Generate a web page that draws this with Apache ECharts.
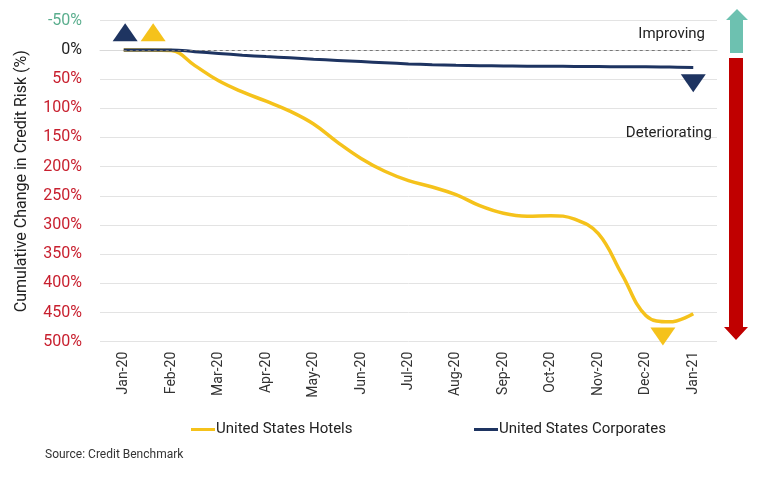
<!DOCTYPE html>
<html>
<head>
<meta charset="utf-8">
<script src="https://cdn.jsdelivr.net/npm/echarts@6/dist/echarts.min.js"></script>
<style>
  html, body { margin: 0; padding: 0; background: #fff; }
  #chart { width: 768px; height: 477px; }
</style>
</head>
<body>
<div id="chart"></div>
<script>
// month labels (category axis)
var months = ['Jan-20','Feb-20','Mar-20','Apr-20','May-20','Jun-20','Jul-20','Aug-20','Sep-20','Oct-20','Nov-20','Dec-20','Jan-21'];
// half-month positions, month index
var steps = [0,0.5,1,1.5,2,2.5,3,3.5,4,4.5,5,5.5,6,6.5,7,7.5,8,8.5,9,9.5,10,10.5,11,11.5,12];
// cumulative change in credit risk (%)
var hotels = [0,0,1,27,53,72,88,105,127,158,186,208,224,235,248,267,280,285,284,290,315,385,455,466,452];
var corporates = [0,0,0,3,6,9,11.5,13.5,16,18,20,22,24,25.5,26.5,27,27.5,28,28,28.5,28.5,29,29,29.5,30];

var hotelsColor = '#F5C21B';
var corpColor = '#1E3461';

var myChart = echarts.init(document.getElementById('chart'));

var pair = function (xs, ys) {
    var out = [];
    for (var i = 0; i < xs.length; i++) out.push([xs[i], ys[i]]);
    return out;
};

var option = {
    animation: false,
    textStyle: { fontFamily: 'Roboto' },
    title: {
        text: 'Source: Credit Benchmark',
        left: 40, top: 444,
        textStyle: { fontSize: 12, fontWeight: 'normal', color: '#333', fontFamily: 'Roboto' }
    },
    grid: { left: 100, right: 51, top: 20.7, bottom: 135.3 },
    legend: [
        {
            data: ['United States Hotels'],
            left: 186, top: 417,
            itemWidth: 24, itemHeight: 3, itemGap: 2,
            icon: 'rect',
            textStyle: { fontSize: 15, color: '#222', padding: [0, 0, 0, -4] }
        },
        {
            data: ['United States Corporates'],
            left: 469, top: 417,
            itemWidth: 24, itemHeight: 3, itemGap: 2,
            icon: 'rect',
            textStyle: { fontSize: 15, color: '#222', padding: [0, 0, 0, -4] }
        }
    ],
    xAxis: [
        {
            type: 'category',
            data: months,
            boundaryGap: true,
            axisLine: { lineStyle: { color: '#d9d9d9' } },
            axisTick: { alignWithLabel: true, length: 4, lineStyle: { color: '#d9d9d9' } },
            axisLabel: { rotate: 90, fontSize: 14, color: '#333', margin: 10, interval: 0 },
            splitLine: { show: false }
        },
        {
            type: 'value',
            min: -0.5, max: 12.5,
            show: false
        }
    ],
    yAxis: {
        type: 'value',
        inverse: true,
        min: -50, max: 500, interval: 50,
        name: 'Cumulative Change in Credit Risk (%)',
        nameLocation: 'middle',
        nameGap: 70,
        nameRotate: 90,
        nameTextStyle: { fontSize: 16, color: '#222' },
        axisLine: { show: false },
        axisTick: { show: false },
        splitLine: { lineStyle: { color: '#e3e3e3' } },
        axisLabel: {
            fontSize: 16,
            margin: 18,
            formatter: function (v) { return '{' + (v < 0 ? 'g' : v === 0 ? 'k' : 'r') + '|' + v + '%}'; },
            rich: {
                g: { color: '#5BAE8E', fontSize: 16 },
                k: { color: '#222', fontSize: 16 },
                r: { color: '#C8202F', fontSize: 16 }
            }
        }
    },
    graphic: [
        { type: 'text', right: 63, top: 27, z: 100, style: { text: 'Improving', fontSize: 15, fill: '#222', fontFamily: 'Roboto' } },
        { type: 'text', right: 56, top: 126, z: 100, style: { text: 'Deteriorating', fontSize: 15, fill: '#222', fontFamily: 'Roboto' } },
        { type: 'polygon', z: 100, shape: { points: [[730, 53], [730, 20], [726, 20], [737, 9], [748, 20], [743, 20], [743, 53]] }, style: { fill: '#6DC1B0' } },
        { type: 'polygon', z: 100, shape: { points: [[729, 58], [743, 58], [743, 327], [748, 327], [736, 340], [724, 327], [729, 327]] }, style: { fill: '#C00000' } }
    ],
    series: [
        {
            name: 'United States Hotels',
            type: 'line',
            xAxisIndex: 1,
            data: pair(steps, hotels),
            smooth: 0.4,
            showSymbol: false,
            color: hotelsColor,
            lineStyle: { width: 3.5, color: hotelsColor },
            z: 3,
            markPoint: {
                symbol: 'triangle',
                symbolSize: [25, 18],
                label: { show: false },
                itemStyle: { color: hotelsColor },
                data: [
                    { coord: [0.62, -30] },
                    { coord: [11.36, 491], symbolRotate: 180 }
                ]
            }
        },
        {
            name: 'United States Corporates',
            type: 'line',
            xAxisIndex: 1,
            data: pair(steps, corporates),
            smooth: 0.4,
            showSymbol: false,
            color: corpColor,
            lineStyle: { width: 3, color: corpColor },
            z: 4,
            markLine: {
                silent: true,
                symbol: 'none',
                label: { show: false },
                lineStyle: { type: [3, 3], color: '#777', width: 1 },
                data: [[{ coord: [0, 0] }, { coord: [12, 0] }]]
            },
            markPoint: {
                symbol: 'triangle',
                symbolSize: [25, 18],
                label: { show: false },
                itemStyle: { color: corpColor },
                data: [
                    { coord: [0.03, -30] },
                    { coord: [12, 57], symbolRotate: 180 }
                ]
            }
        }
    ]
};
myChart.setOption(option);
</script>
</body>
</html>
